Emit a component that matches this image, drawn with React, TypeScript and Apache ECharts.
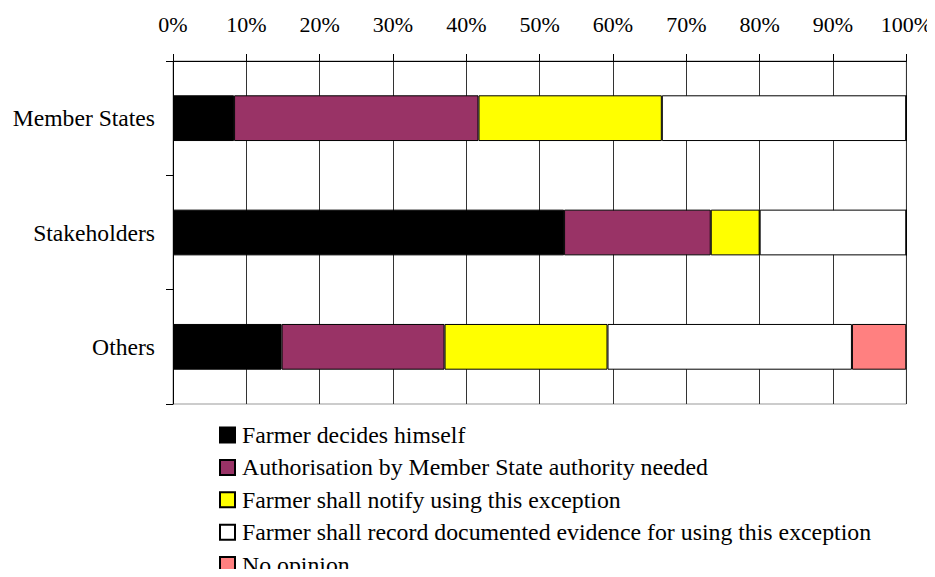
import React, { useEffect, useRef } from "react";
import * as echarts from "echarts";

const categories = ["Member States", "Stakeholders", "Others"];
const seriesNames = [
  "Farmer decides himself",
  "Authorisation by Member State authority needed",
  "Farmer shall notify using this exception",
  "Farmer shall record documented evidence for using this exception",
  "No opinion",
];
const farmerDecides = [8.33, 53.33, 14.81];
const authorisation = [33.33, 20.0, 22.22];
const notify = [25.0, 6.67, 22.22];
const record = [33.33, 20.0, 33.33];
const noOpinion = [0, 0, 7.41];
const colors = ["#000000", "#993366", "#FFFF00", "#FFFFFF", "#FF8080"];
const xTicks = [0, 10, 20, 30, 40, 50, 60, 70, 80, 90, 100];

const FONT = "Liberation Serif";

export default function App() {
  const ref = useRef<HTMLDivElement>(null);
  useEffect(() => {
    if (!ref.current) return;
    const chart = echarts.init(ref.current, undefined, { renderer: "svg" });
    const values = [farmerDecides, authorisation, notify, record, noOpinion];
    chart.setOption({
      animation: false,
      backgroundColor: "#ffffff",
      textStyle: { fontFamily: FONT },
      grid: {
        left: 173,
        right: 28,
        top: 61,
        bottom: 173,
        show: true,
        borderColor: "#999999",
        borderWidth: 1,
        backgroundColor: "transparent",
      },
      xAxis: {
        type: "value",
        position: "top",
        min: xTicks[0],
        max: xTicks[xTicks.length - 1],
        interval: 10,
        axisLine: { show: true, lineStyle: { color: "#000", width: 1 } },
        axisTick: { show: true, length: 7, lineStyle: { color: "#000" } },
        splitLine: { show: true, lineStyle: { color: "#333", width: 1 } },
        axisLabel: {
          formatter: "{value}%",
          fontFamily: FONT,
          fontSize: 22,
          color: "#000",
          margin: 26,
        },
      },
      yAxis: {
        type: "category",
        inverse: true,
        data: categories,
        axisLine: { show: true, lineStyle: { color: "#000", width: 1 } },
        axisTick: { show: true, length: 7, lineStyle: { color: "#000" } },
        axisLabel: {
          fontFamily: FONT,
          fontSize: 23.6,
          color: "#000",
          margin: 18,
        },
      },
      legend: {
        orient: "vertical",
        left: 214,
        top: 418,
        height: 160,
        itemWidth: 15,
        itemHeight: 15,
        itemGap: 8.4,
        icon: "rect",
        textStyle: {
          fontFamily: FONT,
          fontSize: 23.8,
          color: "#000",
          padding: [0, 0, 0, 2],
          lineHeight: 24,
        },
        data: seriesNames,
      },
      series: seriesNames.map((name, i) => ({
        name,
        type: "bar",
        stack: "total",
        barWidth: "40%",
        data: values[i],
        itemStyle: {
          color: colors[i],
          borderColor: "#000",
          borderWidth: 1,
        },
      })),
    });
    return () => chart.dispose();
  }, []);
  return <div ref={ref} style={{ width: 935, height: 577, margin: -8 }} />;
}
